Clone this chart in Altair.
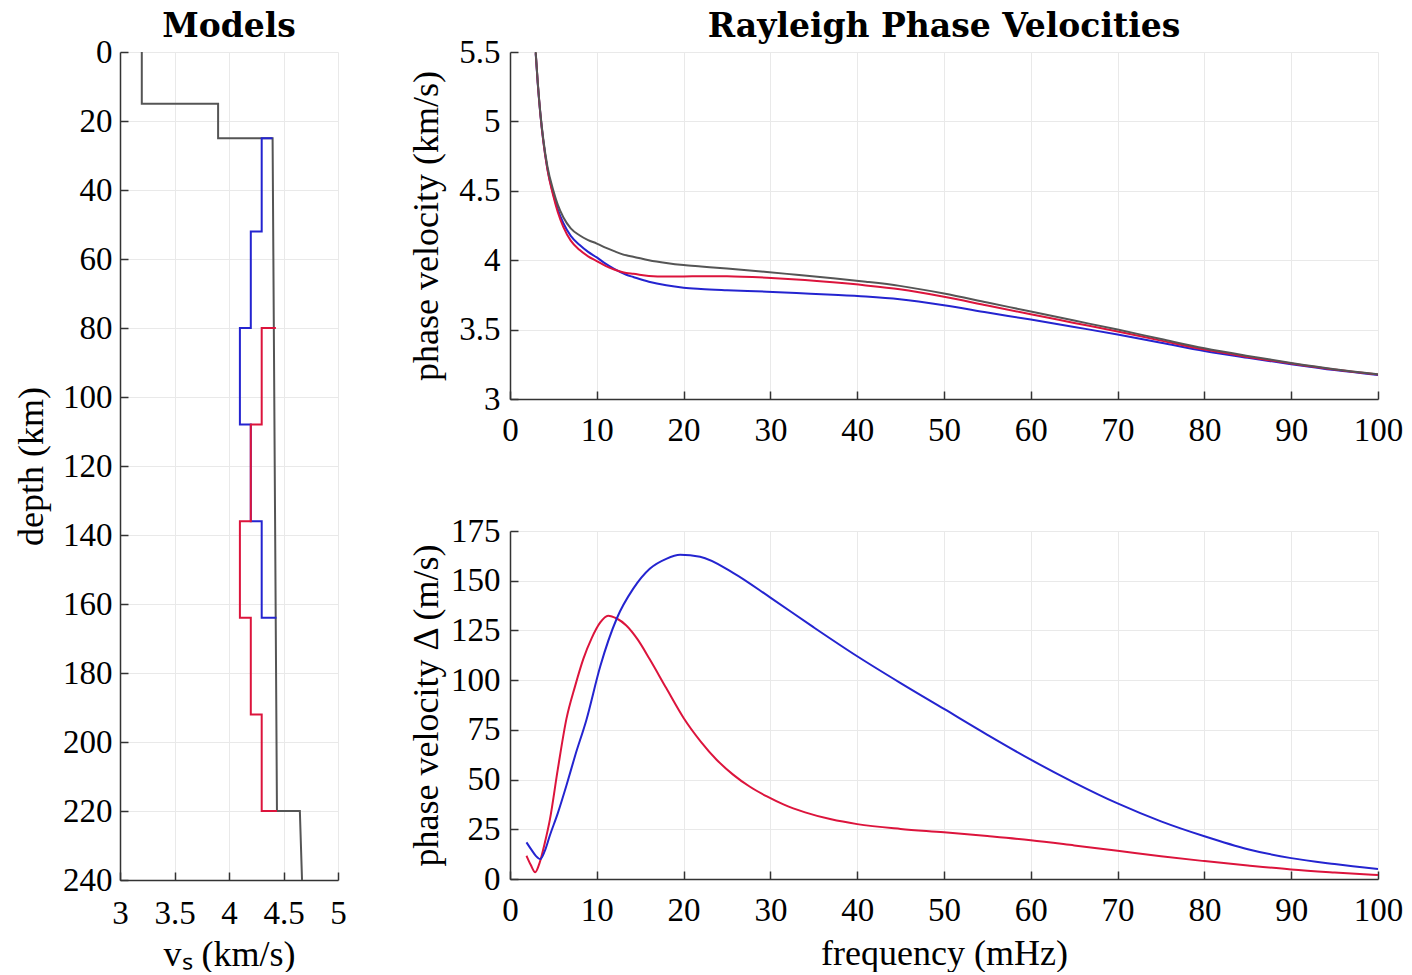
import altair as alt
import pandas as pd

FONT = "Liberation Serif"
TFONT = "DejaVu Serif"
AX = "#333333"
GRID = "#e9e9e9"
C_GRAY = "#555555"
C_BLUE = "#2424d0"
C_RED = "#dc143c"

# ---------------- Models (left panel) ----------------
gray_vs = [3.2, 3.2, 3.9, 3.9, 4.40, 4.44, 4.65, 4.67]
gray_depth = [0, 15, 15, 25, 25, 220, 220, 240]
blue_vs = [4.40, 4.3, 4.3, 4.2, 4.2, 4.1, 4.1, 4.2, 4.2, 4.3, 4.3, 4.435]
blue_depth = [25, 25, 52, 52, 80, 80, 108, 108, 136, 136, 164, 164]
red_vs = [4.43, 4.3, 4.3, 4.2, 4.2, 4.1, 4.1, 4.2, 4.2, 4.3, 4.3, 4.44]
red_depth = [80, 80, 108, 108, 136, 136, 164, 164, 192, 192, 220, 220]

# ---------------- Phase velocities (top right) ----------------
freq_top = [2.96, 3.2, 3.5, 3.84, 4.3, 5.0, 5.5, 6.14, 7, 8, 9, 10, 11, 12, 13.4, 14.2, 16, 18, 20, 22,
            25, 29.6, 33, 37.2, 41, 44.9, 50, 55, 60, 65, 70, 75, 80, 85, 90, 95, 100]
vel_gray = [5.5, 5.28, 5.06, 4.87, 4.68, 4.5, 4.40, 4.31, 4.23, 4.18, 4.145, 4.12, 4.09, 4.065, 4.035,
            4.025, 4.0, 3.98, 3.965, 3.955, 3.94, 3.915, 3.895, 3.87, 3.845, 3.815, 3.76, 3.695, 3.63,
            3.565, 3.5, 3.432, 3.365, 3.31, 3.26, 3.215, 3.178]
vel_blue = [5.49, 5.27, 5.05, 4.858, 4.662, 4.474, 4.367, 4.268, 4.175, 4.111, 4.06, 4.02, 3.975, 3.937,
            3.895, 3.879, 3.845, 3.819, 3.802, 3.793, 3.784, 3.773, 3.763, 3.751, 3.738, 3.7185, 3.6755,
            3.623, 3.572, 3.519, 3.465, 3.406, 3.346, 3.2965, 3.2505, 3.208, 3.173]
vel_red = [5.495, 5.275, 5.051, 4.856, 4.658, 4.46, 4.347, 4.24, 4.141, 4.075, 4.028, 3.994, 3.9585,
           3.933, 3.9076, 3.902, 3.887, 3.883, 3.883, 3.885, 3.884, 3.8735, 3.861, 3.8407, 3.8185,
           3.7907, 3.737, 3.6735, 3.6104, 3.5482, 3.486, 3.4207, 3.356, 3.3032, 3.2552, 3.2117, 3.176]

# ---------------- Phase velocity differences (bottom right) ----------------
freq_blue_d = [1.9, 2.5, 3.0, 3.5, 4.0, 4.6, 5.5, 6.5, 7.5, 8.8, 10.4, 12.3, 14.2, 16.1, 18, 19.6, 21.9,
               25.7, 30, 35, 40, 45, 50, 55, 60, 65, 70, 75, 80, 85, 90, 95, 100]
delta_blue = [18.4, 14.5, 11.5, 10, 14, 22, 33, 47, 62, 80, 107, 131, 146, 156, 161, 163, 162, 154,
              141.5, 126.5, 112, 98.5, 85.5, 72.5, 60, 48.5, 38, 29, 21.5, 15, 10.5, 7.5, 5]
freq_red_d = [1.9, 2.4, 2.9, 3.4, 4.0, 4.6, 5.5, 6.5, 7.5, 8.45, 9.4, 10.4, 11.3, 12.3, 13.4, 14.7, 16.1,
              18, 20, 22, 23.8, 25.7, 27.6, 29.6, 31.5, 34, 37, 40, 45, 50, 55, 60, 65, 70, 75, 80,
              85, 90, 95, 100]
delta_red = [11.7, 7, 3.4, 8, 18, 30, 55, 80.5, 97, 110.7, 121, 129, 132.4, 131, 127.5, 120.5, 110.5, 96,
             81, 69, 60, 52.5, 46.5, 41.5, 37.5, 33.5, 30, 27.6, 25.2, 23.5, 21.6, 19.5, 16.9, 14.2, 11.4,
             9, 6.8, 4.8, 3.3, 2]

# tick values
vs_ticks = [3, 3.5, 4, 4.5, 5]
depth_ticks = list(range(0, 241, 20))
freq_ticks = list(range(0, 101, 10))
vel_ticks = [3, 3.5, 4, 4.5, 5, 5.5]
delta_ticks = list(range(0, 176, 25))


def long(series_list):
    rows = []
    for name, xs, ys in series_list:
        for i, (a, b) in enumerate(zip(xs, ys)):
            rows.append({"series": name, "i": i, "x": a, "y": b})
    return pd.DataFrame(rows)


color_scale = alt.Scale(domain=["gray", "blue", "red"], range=[C_GRAY, C_BLUE, C_RED])

FS = 33
TS = 36


def axis(values, title, pad, tpad=10, title_x=None):
    kw = dict(values=values, labelExpr="'' + datum.value", grid=True, gridColor=GRID, gridWidth=1,
              domainColor=AX, domainWidth=1.5, tickColor=AX, tickWidth=1.5,
              tickSize={"expr": "-8"}, labelPadding=pad, labelFont=FONT, labelFontSize=FS,
              labelColor="black", titleFont=FONT, titleFontSize=TS, titleFontWeight="normal",
              titleColor="black", titlePadding=tpad, labelFlush=False, labelOverlap=False,
              title=title if title else None)
    if title_x is not None:
        kw["titleX"] = title_x
    return alt.Axis(**kw)


def ttl(text):
    return alt.TitleParams(text, font=TFONT, fontSize=33, fontWeight="bold", anchor="middle",
                           color="black", offset=-8, frame="group")


# Left panel
df_left = long([("gray", gray_vs, gray_depth), ("blue", blue_vs, blue_depth), ("red", red_vs, red_depth)])
left = alt.Chart(df_left).mark_line(strokeWidth=2).encode(
    x=alt.X("x:Q", scale=alt.Scale(domain=[3, 5], nice=False, zero=False),
            axis=axis(vs_ticks, "vₛ (km/s)", 25, tpad=7)),
    y=alt.Y("y:Q", scale=alt.Scale(domain=[0, 240], reverse=True, nice=False),
            axis=axis(depth_ticks, "depth (km)", 16, title_x=-70)),
    color=alt.Color("series:N", scale=color_scale, legend=None),
    order=alt.Order("i:Q"),
).properties(width=218, height=828, title=ttl("Models"))

# Top right
df_top = long([("blue", freq_top, vel_blue), ("red", freq_top, vel_red), ("gray", freq_top, vel_gray)])
top = alt.Chart(df_top).mark_line(strokeWidth=2, clip=True, interpolate="monotone").encode(
    x=alt.X("x:Q", scale=alt.Scale(domain=[0, 100], nice=False),
            axis=axis(freq_ticks, None, 23)),
    y=alt.Y("y:Q", scale=alt.Scale(domain=[3, 5.5], nice=False, zero=False),
            axis=axis(vel_ticks, "phase velocity (km/s)", 18, title_x=-65)),
    color=alt.Color("series:N", scale=color_scale, legend=None),
    order=alt.Order("i:Q"),
).properties(width=868, height=347, title=ttl("Rayleigh Phase Velocities"))

# Bottom right
df_bot = long([("red", freq_red_d, delta_red), ("blue", freq_blue_d, delta_blue)])
bottom = alt.Chart(df_bot).mark_line(strokeWidth=2, clip=True, interpolate="monotone").encode(
    x=alt.X("x:Q", scale=alt.Scale(domain=[0, 100], nice=False),
            axis=axis(freq_ticks, "frequency (mHz)", 23, tpad=9)),
    y=alt.Y("y:Q", scale=alt.Scale(domain=[0, 175], nice=False),
            axis=axis(delta_ticks, "phase velocity Δ (m/s)", 18, title_x=-65)),
    color=alt.Color("series:N", scale=color_scale, legend=None),
    order=alt.Order("i:Q"),
).properties(width=868, height=348)

chart = alt.hconcat(
    left,
    alt.vconcat(top, bottom, spacing=68),
    spacing=61,
).properties(
    padding={"left": 13, "top": 11, "right": 0, "bottom": 0},
    background="white",
).configure_view(stroke=None)

chart.save("out.html", embed_options={"renderer": "svg", "actions": False})
